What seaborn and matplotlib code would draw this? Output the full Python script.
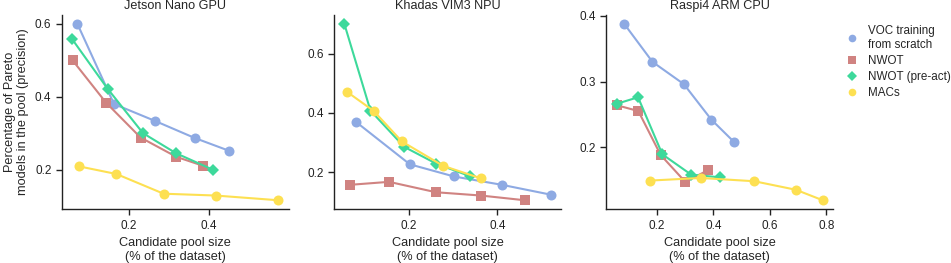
import matplotlib
matplotlib.use("Agg")
import matplotlib.pyplot as plt
import seaborn as sns
import pandas as pd
from matplotlib.lines import Line2D
from matplotlib.ticker import MultipleLocator

sns.set_theme(style="ticks")
plt.rcParams['font.family'] = ['Liberation Sans', 'DejaVu Sans']
LFS = 9.2   # axis labels
TFS = 9.1   # titles
KFS = 8.5   # tick labels
GFS = 8.4   # legend
plt.rcParams['font.size'] = LFS

titles = ["Jetson Nano GPU", "Khadas VIM3 NPU", "Raspi4 ARM CPU"]
series_names = ["VOC training\nfrom scratch", "NWOT", "NWOT (pre-act)", "MACs"]
colors = ["#8eaae3", "#d08381", "#3dd99b", "#fde052"]
markers = ["o", "s", "D", "o"]

# Jetson Nano GPU
jet_voc_x = [0.073, 0.164, 0.265, 0.364, 0.449]
jet_voc_y = [0.600, 0.380, 0.334, 0.287, 0.252]
jet_nwot_x = [0.061, 0.144, 0.230, 0.319, 0.384]
jet_nwot_y = [0.500, 0.384, 0.288, 0.235, 0.211]
jet_pre_x = [0.060, 0.148, 0.236, 0.318, 0.411]
jet_pre_y = [0.558, 0.422, 0.300, 0.245, 0.199]
jet_mac_x = [0.077, 0.170, 0.287, 0.416, 0.572]
jet_mac_y = [0.209, 0.188, 0.134, 0.129, 0.116]

# Khadas VIM3 NPU
kha_voc_x = [0.081, 0.202, 0.302, 0.410, 0.520]
kha_voc_y = [0.369, 0.227, 0.186, 0.158, 0.125]
kha_nwot_x = [0.067, 0.155, 0.261, 0.362, 0.462]
kha_nwot_y = [0.158, 0.168, 0.133, 0.122, 0.106]
kha_pre_x = [0.054, 0.113, 0.189, 0.262, 0.338]
kha_pre_y = [0.700, 0.408, 0.286, 0.229, 0.187]
kha_mac_x = [0.060, 0.120, 0.184, 0.277, 0.362]
kha_mac_y = [0.471, 0.407, 0.304, 0.222, 0.180]

# Raspi4 ARM CPU
ras_voc_x = [0.085, 0.185, 0.296, 0.393, 0.473]
ras_voc_y = [0.388, 0.330, 0.296, 0.242, 0.208]
ras_nwot_x = [0.058, 0.135, 0.214, 0.301, 0.382]
ras_nwot_y = [0.264, 0.255, 0.188, 0.147, 0.165]
ras_pre_x = [0.058, 0.134, 0.220, 0.322, 0.424]
ras_pre_y = [0.266, 0.276, 0.189, 0.158, 0.154]
ras_mac_x = [0.176, 0.355, 0.545, 0.692, 0.787]
ras_mac_y = [0.149, 0.153, 0.148, 0.135, 0.119]

panels = [
    [(jet_voc_x, jet_voc_y), (jet_nwot_x, jet_nwot_y), (jet_pre_x, jet_pre_y), (jet_mac_x, jet_mac_y)],
    [(kha_voc_x, kha_voc_y), (kha_nwot_x, kha_nwot_y), (kha_pre_x, kha_pre_y), (kha_mac_x, kha_mac_y)],
    [(ras_voc_x, ras_voc_y), (ras_nwot_x, ras_nwot_y), (ras_pre_x, ras_pre_y), (ras_mac_x, ras_mac_y)],
]
x_steps = [0.2, 0.2, 0.2]
y_steps = [0.2, 0.2, 0.1]

fig, axes = plt.subplots(1, 3, figsize=(9.51, 2.63), dpi=100)
fig.subplots_adjust(left=0.065, right=0.876, top=0.943, bottom=0.205, wspace=0.2)

for ax, title, data, xs_, ys_ in zip(axes, titles, panels, x_steps, y_steps):
    for (xs, ys), name, c, m in zip(data, series_names, colors, markers):
        df = pd.DataFrame({"x": xs, "y": ys})
        ms = 6.5 if m == "D" else 7.2
        sns.lineplot(data=df, x="x", y="y", ax=ax, color=c, marker=m,
                     markersize=ms, markeredgewidth=0, linewidth=1.5,
                     sort=False, estimator=None)
    ax.set_title(title, fontsize=TFS, pad=4)
    ax.set_xlabel("Candidate pool size\n(% of the dataset)", fontsize=LFS)
    ax.set_ylabel("")
    ax.xaxis.set_major_locator(MultipleLocator(xs_))
    ax.yaxis.set_major_locator(MultipleLocator(ys_))
    ax.tick_params(labelsize=KFS, length=4, width=1, colors="#222222")
    for sp in ax.spines.values():
        sp.set_linewidth(1)
        sp.set_color("#222222")
    sns.despine(ax=ax)

axes[0].set_ylabel("Percentage of Pareto\nmodels in the pool (precision)", fontsize=LFS)

handles = [Line2D([], [], color=c, marker=m, linestyle="none",
                  markersize=(5 if m == "D" else 5.5), markeredgewidth=0)
           for c, m in zip(colors, markers)]
fig.legend(handles, series_names, loc="upper left", bbox_to_anchor=(0.8885, 0.905),
           frameon=False, fontsize=GFS, handletextpad=0.8, labelspacing=0.35,
           handlelength=1.2, borderpad=0, borderaxespad=0)

fig.savefig("out.png", dpi=100)
